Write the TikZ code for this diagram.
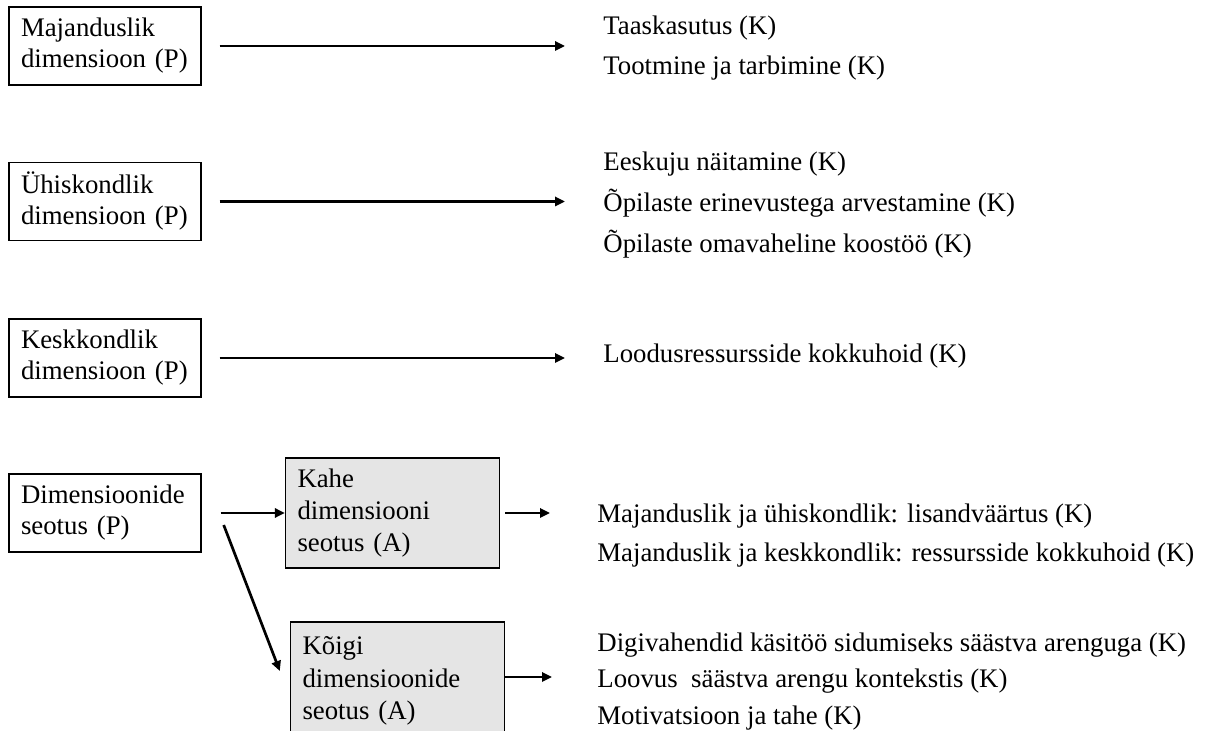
\documentclass[tikz,border=0pt]{standalone}
\usepackage{fontspec}
\setmainfont{Liberation Serif}
\usetikzlibrary{arrows.meta}

\begin{document}
\begin{tikzpicture}[x=0.5pt,y=-0.5pt,
    font=\fontsize{13.4}{15.5}\selectfont,
    dimbox/.style={draw, line width=0.7pt, align=left, text width=84pt, inner xsep=6pt, minimum height=39pt},
    seosbox/.style={draw, line width=0.7pt, fill=black!10, align=left, text width=95pt, inner xsep=6pt, minimum height=55pt, font=\fontsize{13.4}{16.2}\selectfont},
    loend/.style={anchor=west, align=left, inner sep=0pt, font=\fontsize{13.4}{20}\selectfont},
    nool/.style={-{Triangle[length=5pt,width=4.6pt]}, line width=1.35pt}]
  \useasboundingbox (0,0) rectangle (1212,731);

  % Dimensioonid (P)
  \node[dimbox] (maj) at (105,46) {Majanduslik\\dimensioon (P)};
  \node[dimbox] (uhis) at (105,201.5) {Ühiskondlik\\dimensioon (P)};
  \node[dimbox] (kesk) at (105,358) {Keskkondlik\\dimensioon (P)};
  \node[dimbox] (dim) at (105,513) {Dimensioonide\\seotus (P)};

  % Seotuse alamkategooriad (A)
  \node[seosbox] (kahe) at (392.5,513) {Kahe\\dimensiooni\\seotus (A)};
  \node[seosbox, minimum height=59pt] (koigi) at (397.5,681) {Kõigi\\dimensioonide\\seotus (A)};

  % Koodid (K)
  \node[loend] (majk) at (603,48) {Taaskasutus (K)\\Tootmine ja tarbimine (K)};
  \node[loend, font=\fontsize{13.4}{20.5}\selectfont] (uhisk) at (603,205) {Eeskuju näitamine (K)\\Õpilaste erinevustega arvestamine (K)\\Õpilaste omavaheline koostöö (K)};
  \node[loend] (keskk) at (603,356) {Loodusressursside kokkuhoid (K)};
  \node[loend, font=\fontsize{13.4}{19.5}\selectfont] (kahek) at (597,536) {Majanduslik ja ühiskondlik: lisandväärtus (K)\\Majanduslik ja keskkondlik: ressursside kokkuhoid (K)};
  \node[loend, font=\fontsize{13.4}{18.2}\selectfont] (koigik) at (597,681.5) {Digivahendid käsitöö sidumiseks säästva arenguga (K)\\Loovus\ \ säästva arengu kontekstis (K)\\Motivatsioon ja tahe (K)};

  % Nooled
  \draw[nool, shorten <=9pt, shorten >=19pt] (maj.east) -- (maj.east -| majk.west);
  \draw[nool, shorten <=9pt, shorten >=19pt] (uhis.east) -- (uhis.east -| uhisk.west);
  \draw[nool, shorten <=9pt, shorten >=19pt] (kesk.east) -- (kesk.east -| keskk.west);
  \draw[nool, shorten <=9.5pt] (dim.east) -- (kahe.west);
  \draw[nool] ([xshift=11pt,yshift=-6pt]dim.east) -- ([xshift=-5pt,yshift=5pt]koigi.west);
  \draw[nool, shorten <=2.5pt, shorten >=23.5pt] (kahe.east) -- (kahe.east -| kahek.west);
  \draw[nool, shorten >=22.5pt] ([yshift=2pt]koigi.east) -- ([yshift=2pt]koigi.east -| koigik.west);
\end{tikzpicture}
\end{document}
